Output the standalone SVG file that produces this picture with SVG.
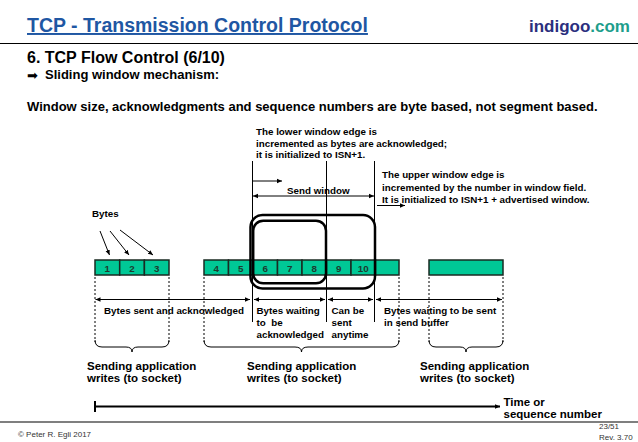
<svg xmlns="http://www.w3.org/2000/svg" width="638" height="442" viewBox="0 0 638 442">
<defs>
<style>
text{font-family:"Liberation Sans",Arial,sans-serif;font-weight:bold;fill:#000}
.sm{font-size:9.8px}
.md{font-size:11.5px}
.num{font-size:9.8px;fill:#1d3a2e;text-anchor:middle}
.byte{fill:#00c896;stroke:#1a2a22;stroke-width:1.5}
.dot{stroke:#000;stroke-width:1;stroke-dasharray:2,2;fill:none}
.ln{stroke:#000;stroke-width:1;fill:none}
.win{fill:none;stroke:#000;stroke-width:2.5}
.foot{font-weight:normal;font-size:8px;fill:#333}
</style>
<marker id="ah" markerWidth="6" markerHeight="6" refX="5" refY="3" orient="auto-start-reverse" markerUnits="userSpaceOnUse">
<path d="M0,0.8 L5,3 L0,5.2 Z" fill="#000"/>
</marker>
</defs>
<rect width="638" height="442" fill="#fff"/>

<g id="header">
<text x="27" y="32" style="font-size:19.5px;fill:#1f57a3;text-decoration:underline">TCP - Transmission Control Protocol</text>
<text x="630" y="32" text-anchor="end" style="font-size:17px"><tspan fill="#2b2f7e">indigoo</tspan><tspan fill="#1e9e8c">.com</tspan></text>
<line x1="0" y1="43.5" x2="638" y2="43.5" stroke="#000" stroke-width="1.2"/>
<text x="27" y="63" style="font-size:16px">6. TCP Flow Control (6/10)</text>
<text x="27" y="80" style="font-size:13px;font-family:'DejaVu Sans',sans-serif;font-weight:normal">➡</text>
<text x="45" y="79" style="font-size:13px">Sliding window mechanism:</text>
<text x="27" y="111" style="font-size:13px">Window size, acknowledgments and sequence numbers are byte based, not segment based.</text>
</g>

<g id="connectors">
<line class="ln" x1="252.5" y1="161" x2="252.5" y2="322"/>
<line class="ln" x1="326.5" y1="161" x2="326.5" y2="322"/>
<line class="ln" x1="374.5" y1="161" x2="374.5" y2="322"/>
<line class="ln" x1="252.5" y1="181" x2="282" y2="181" marker-end="url(#ah)"/>
<line class="ln" x1="253" y1="196" x2="374" y2="196" marker-start="url(#ah)" marker-end="url(#ah)"/>
<line class="ln" x1="377" y1="205.5" x2="405" y2="205.5" marker-end="url(#ah)"/>
<line class="ln" x1="100" y1="231" x2="109.5" y2="255" marker-end="url(#ah)"/>
<line class="ln" x1="110" y1="231" x2="129" y2="255" marker-end="url(#ah)"/>
<line class="ln" x1="120" y1="230" x2="153" y2="255" marker-end="url(#ah)"/>
<line class="dot" x1="95" y1="277" x2="95" y2="342"/>
<line class="dot" x1="169" y1="277" x2="169" y2="342"/>
<line class="dot" x1="204" y1="277" x2="204" y2="342"/>
<line class="dot" x1="399" y1="277" x2="399" y2="342"/>
<line class="dot" x1="429" y1="277" x2="429" y2="342"/>
<line class="dot" x1="503" y1="277" x2="503" y2="342"/>
<line class="ln" x1="95.5" y1="299.5" x2="250" y2="299.5" marker-start="url(#ah)" marker-end="url(#ah)"/>
<line class="ln" x1="254" y1="299.5" x2="325" y2="299.5" marker-start="url(#ah)" marker-end="url(#ah)"/>
<line class="ln" x1="328" y1="299.5" x2="373" y2="299.5" marker-start="url(#ah)" marker-end="url(#ah)"/>
<line class="ln" x1="376" y1="299.5" x2="502" y2="299.5" marker-start="url(#ah)" marker-end="url(#ah)"/>
<path class="ln" d="M95,340 Q95,347 102,347 L126,347 Q132,347 132,352 Q132,347 138,347 L162,347 Q169,347 169,340"/>
<path class="ln" d="M204,340 Q204,347 211,347 L295,347 Q301.5,347 301.5,352 Q301.5,347 308,347 L392,347 Q399,347 399,340"/>
<path class="ln" d="M429,340 Q429,347 436,347 L460,347 Q466,347 466,352 Q466,347 472,347 L496,347 Q503,347 503,340"/>
<line x1="95" y1="406.5" x2="500" y2="406.5" stroke="#000" stroke-width="2" marker-end="url(#ah)"/>
<line x1="95" y1="401" x2="95" y2="412" stroke="#000" stroke-width="2"/>
</g>

<g id="labels">
<text class="sm" x="256" y="135">The lower window edge is</text>
<text class="sm" x="256" y="146.5">incremented as bytes are acknowledged;</text>
<text class="sm" x="256" y="158">it is initialized to ISN+1.</text>
<text class="sm" x="287" y="194">Send window</text>
<text class="sm" x="382" y="178">The upper window edge is</text>
<text class="sm" x="382" y="190.5">incremented by the number in window field.</text>
<text class="sm" x="382" y="202.5">It is initialized to ISN+1 + advertised window.</text>
<text class="sm" x="92" y="216.5">Bytes</text>
</g>

<g id="bytes-1-3">
<rect class="byte" x="95" y="260" width="24.7" height="15"/>
<rect class="byte" x="119.7" y="260" width="24.7" height="15"/>
<rect class="byte" x="144.4" y="260" width="24.6" height="15"/>
<text class="num" x="107.3" y="271.5">1</text>
<text class="num" x="132" y="271.5">2</text>
<text class="num" x="156.7" y="271.5">3</text>
</g>

<g id="bytes-4-10">
<rect class="byte" x="204" y="260" width="24.5" height="15"/>
<rect class="byte" x="228.5" y="260" width="24.5" height="15"/>
<rect class="byte" x="253" y="260" width="24.5" height="15"/>
<rect class="byte" x="277.5" y="260" width="24.5" height="15"/>
<rect class="byte" x="302" y="260" width="24.5" height="15"/>
<rect class="byte" x="326.5" y="260" width="24.5" height="15"/>
<rect class="byte" x="351" y="260" width="24.5" height="15"/>
<rect class="byte" x="375.5" y="260" width="23.5" height="15"/>
<text class="num" x="216.2" y="271.5">4</text>
<text class="num" x="240.7" y="271.5">5</text>
<text class="num" x="265.2" y="271.5">6</text>
<text class="num" x="289.7" y="271.5">7</text>
<text class="num" x="314.2" y="271.5">8</text>
<text class="num" x="338.7" y="271.5">9</text>
<text class="num" x="363.2" y="271.5">10</text>
</g>

<g id="bytes-buffer">
<rect class="byte" x="429" y="260" width="74" height="15"/>
</g>

<g id="windows">
<rect class="win" x="250.5" y="215" width="124.5" height="73.5" rx="12"/>
<rect class="win" x="253.2" y="220.7" width="72.8" height="62.5" rx="10"/>
</g>

<g id="bottom-labels">
<text class="sm" x="104" y="314">Bytes sent and acknowledged</text>
<text class="sm" x="256.5" y="314">Bytes waiting</text>
<text class="sm" x="256.5" y="326" xml:space="preserve">to  be</text>
<text class="sm" x="256.5" y="337.5">acknowledged</text>
<text class="sm" x="331.5" y="314">Can be</text>
<text class="sm" x="331.5" y="326">sent</text>
<text class="sm" x="331.5" y="337.5">anytime</text>
<text class="sm" x="384" y="314">Bytes waiting to be sent</text>
<text class="sm" x="384" y="326">in send buffer</text>
<text class="md" x="87" y="369.5">Sending application</text>
<text class="md" x="87" y="381.5">writes (to socket)</text>
<text class="md" x="247" y="369.5">Sending application</text>
<text class="md" x="247" y="381.5">writes (to socket)</text>
<text class="md" x="420" y="369.5">Sending application</text>
<text class="md" x="420" y="381.5">writes (to socket)</text>
<text class="md" x="503.5" y="406">Time or</text>
<text class="md" x="503.5" y="418">sequence number</text>
</g>

<g id="footer">
<line x1="0" y1="422" x2="638" y2="422" stroke="#000" stroke-width="1.2"/>
<text class="foot" x="18" y="437">© Peter R. Egli 2017</text>
<text class="foot" x="599" y="429">23/51</text>
<text class="foot" x="599" y="439.5">Rev. 3.70</text>
</g>
</svg>
